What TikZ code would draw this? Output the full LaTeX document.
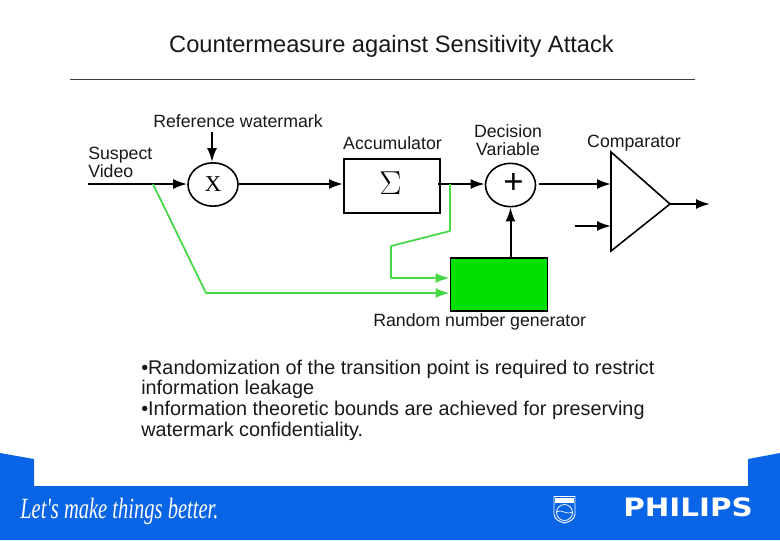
\documentclass[tikz,border=0pt]{standalone}
\usepackage{fontspec}
\setmainfont{Liberation Sans}
\newfontfamily\handfont{Liberation Serif}
\newfontfamily\logofont{DejaVu Sans}
\usetikzlibrary{arrows.meta,shapes.geometric}
\definecolor{philipsblue}{HTML}{0A64E6}
\definecolor{wire}{HTML}{44D844}
\definecolor{fillgreen}{HTML}{00E000}
\tikzset{
  x=0.75pt,y=-0.75pt,
  lbl/.style={inner sep=0,font=\fontsize{13.3pt}{13.7pt}\selectfont,align=left,text=black!90},
  bul/.style={inner sep=0,anchor=west,font=\fontsize{14.85pt}{15pt}\selectfont,text=black!90},
  blk/.style={draw=black,line width=1.5pt},
  sig/.style={blk,-{Latex[length=10.5pt,width=7.5pt]}},
  grn/.style={draw=wire,line width=1.3pt,line join=round},
  grnarrow/.style={grn,-{Latex[length=10.5pt,width=7.5pt]}},
  ell/.style={ellipse,draw=black,line width=1.2pt,minimum width=37.5pt,minimum height=32.5pt,inner sep=0},
}
\begin{document}
\begin{tikzpicture}
\useasboundingbox (0,0) rectangle (780,540);
\fill[white] (0,0) rectangle (780,540);
% footer
\fill[philipsblue] (0,453) -- (34,459) -- (34,486) -- (748,486) -- (748,459) -- (780,453) -- (780,540) -- (0,540) -- cycle;
% title
\node[inner sep=0,font=\fontsize{17.75pt}{18pt}\selectfont,text=black!90] (title) at (391.5,46.5) {Countermeasure against Sensitivity Attack};
\coordinate (ruleL) at (70,79);
\coordinate (ruleR) at (695,79);
\draw[black!75,line width=0.6pt] (ruleL) -- (ruleR);
% diagram nodes
\node[ell,font=\fontsize{17pt}{18pt}\selectfont] (mul) at (213,184.5) {\handfont X};
\node[draw=black,line width=1.4pt,minimum width=72pt,minimum height=40.5pt,inner sep=0,anchor=north west] (acc) at (343,158) {};
\node[inner sep=0,font=\fontsize{27pt}{27pt}\selectfont] (sigma) at (390.5,183) {$\Sigma$};
\node[ell] (add) at (510.5,185) {};
\node[inner sep=0,font=\fontsize{26pt}{26pt}\selectfont] (plus) at (513.5,183.5) {+};
\node[draw=black,line width=1.2pt,fill=fillgreen,minimum width=73pt,minimum height=40pt,inner sep=0,anchor=north west] (rng) at (449.5,257) {};
\coordinate (triA) at (611,152);
\coordinate (triB) at (611,251);
\coordinate (triC) at (670,204);
\draw[black,line width=1.2pt,line join=miter] (triA) -- (triC) -- (triB) -- cycle;
% labels
\node[lbl,anchor=west] (reflbl) at (153,121) {Reference watermark};
\node[lbl,anchor=north west] (suslbl) at (88,147) {Suspect\\Video};
\node[lbl] (acclbl) at (392.5,143) {Accumulator};
\node[lbl,anchor=north,align=center] (declbl) at (508,124) {Decision\\Variable};
\node[lbl] (cmplbl) at (634,143) {Comparator};
\node[lbl,anchor=west] (rnglbl) at (373,321.5) {Random number generator};
% bullets
\node[bul] (b1) at (141,369) {•Randomization of the transition point is required to restrict};
\node[bul] (b2) at (141,389.5) {information leakage};
\node[bul] (b3) at (141,410.5) {•Information theoretic bounds are achieved for preserving};
\node[bul] (b4) at (141,431) {watermark confidentiality.};
% free ends
\coordinate (refTop) at (212,132);
\coordinate (susL) at (88,184);
\coordinate (tap) at (153,184);
\coordinate (tapB) at (206,293);
\coordinate (out1) at (438,184);
\coordinate (tapA) at (450,184);
\coordinate (gA) at (450,231);
\coordinate (gB) at (391,246);
\coordinate (gC) at (391,278);
\coordinate (in1S) at (539,184);
\coordinate (in1E) at (611,184);
\coordinate (in2S) at (575,226);
\coordinate (in2E) at (611,226);
\coordinate (outE) at (710,204);
% connectors
\draw[sig] (refTop) -- (mul.north -| refTop);
\draw[sig] (susL) -- (mul.west |- susL);
\draw[sig] (mul.east |- susL) -- (acc.west |- susL);
\draw[sig] (out1) -- (add.west |- out1);
\draw[sig] (in1S) -- (in1E);
\draw[sig] (in2S) -- (in2E);
\draw[sig] (triC) -- (outE);
\draw[sig] (rng.north -| add.south) -- (add.south);
\draw[grnarrow] (tapA) -- (gA) -- (gB) -- (gC) -- (rng.west |- gC);
\draw[grnarrow] (tap) -- (tapB) -- (rng.west |- tapB);
% footer text
\node[inner sep=0,anchor=west,text=white,font=\fontsize{20pt}{20pt}\selectfont\handfont\itshape] (slogan) at (20,511) {\scalebox{0.77}[1.1]{Let's make things better.}};
\node[inner sep=0,anchor=west,text=white,font=\fontsize{19pt}{20pt}\selectfont\logofont\bfseries] (brand) at (623,507.5) {\scalebox{1.16}[1]{PHILIPS}};
% emblem
\draw[white,line width=0.7pt] (554,496.5) -- (575,496.5) -- (575,514) .. controls (575,520) and (568,522) .. (564.5,523) .. controls (561,522) and (554,520) .. (554,514) -- cycle;
\fill[white] (555,497.5) rectangle (574,502.5);
\draw[white,line width=0.6pt] (564.5,512.5) circle [radius=8];
\draw[white,line width=0.5pt] (556.5,512) .. controls (560,508) and (568,516) .. (572.5,512);
\end{tikzpicture}
\end{document}
